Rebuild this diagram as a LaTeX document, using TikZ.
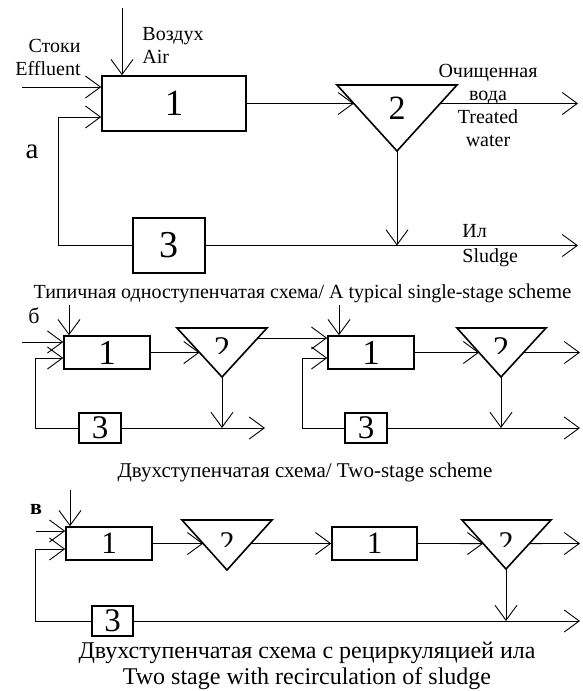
\documentclass[tikz,border=0pt]{standalone}
\usepackage{fontspec}
\setmainfont{Liberation Serif}
\usetikzlibrary{arrows.meta}
\newcommand{\fsz}[2]{\fontsize{#1}{#2}\selectfont}
\tikzset{
  blok/.style={draw, line width=1.6pt, inner sep=0pt},
  lbl/.style={inner sep=0pt, font=\fsz{20}{23}},
  tri/.style={line width=1.6pt, line join=miter}
}
\begin{document}
\begin{tikzpicture}[x=1pt,y=-1pt,>={Straight Barb[length=15pt,width=22pt]},line width=0.9pt]
\useasboundingbox (0,0) rectangle (582,691);
% Схема а
\node[blok, minimum width=144pt, minimum height=55pt, font=\fsz{37}{40}] (A1) at (174,103.5) {1};
\node[blok, minimum width=72pt, minimum height=55pt, font=\fsz{38}{40}] (A3) at (169,245.5) {3};
\coordinate (tA1) at (337,85); \coordinate (tA2) at (457,85); \coordinate (tA3) at (397,151);
\draw[tri] (tA1)--(tA2)--(tA3)--cycle;
\node[font=\fsz{34}{38}] (nA2) at (397,108) {2};
\coordinate (airA) at (122,8);
\draw[->] (airA) -- (airA |- A1.north);
\coordinate (effA) at (22,87);
\draw[->] (effA) -- (effA -| A1.west);
\coordinate (recA) at (58,117);
\draw[->] (A3.west) -| (recA) -- (recA -| A1.west);
\draw[->] (A1.east) -- (intersection of A1.west--A1.east and tA1--tA3);
\coordinate (outA) at (578,103.5);
\draw[->] (intersection of A1.west--A1.east and tA2--tA3) -- (outA);
\draw[->] (tA3) -- (tA3 |- A3.east);
\coordinate (sludA) at (578,245.5);
\draw[->] (A3.east) -- (sludA);
% подписи а
\node[lbl, align=left, anchor=west] (airlbl) at (142,45) {Воздух\\Air};
\node[lbl, align=right, anchor=east] (efflbl) at (81,57.5) {Стоки\\Effluent};
\node[lbl, align=center] (waterlbl) at (488,105.5) {Очищенная\\вода\\Treated\\water};
\node[lbl, font=\fsz{20}{25}, align=left, anchor=west] (sludlbl) at (462,245.5) {Ил\\Sludge};
\node[font=\fsz{29}{32}] (la) at (32,152) {а};
\node[inner sep=0pt, font=\fsz{20}{23}] (capA) at (302.5,293) {Типичная одноступенчатая схема/ A typical single-stage {\fsz{21}{23}scheme}};
% Схема б, первая ступень
\node[blok, minimum width=86pt, minimum height=33pt, font=\fsz{35}{36}] (B1) at (107,352.5) {1};
\node[blok, minimum width=42pt, minimum height=30pt, font=\fsz{33}{36}] (B3) at (100,428) {3};
\coordinate (tB1) at (177,328); \coordinate (tB2) at (267,328); \coordinate (tB3) at (222,377);
\draw[tri] (tB1)--(tB2)--(tB3)--cycle;
\begin{scope}
\clip (170,328) rectangle (270,353);
\node[font=\fsz{33}{36}] (nB2) at (222,348.5) {2};
\end{scope}
\coordinate (airB) at (69,305);
\draw[->] (airB) -- (airB |- B1.north);
\coordinate (effB) at (22,342);
\draw[->] (effB) -- (effB -| B1.west);
\coordinate (recB) at (35,358);
\draw[->] (B3.west) -| (recB) -- (recB -| B1.west);
\draw[->] (B1.east) -- (intersection of B1.west--B1.east and tB1--tB3);
\draw[->] (tB3) -- (tB3 |- B3.east);
\coordinate (sludB) at (265,428);
\draw[->] (B3.east) -- (sludB);
% вторая ступень
\node[blok, minimum width=86pt, minimum height=33pt, font=\fsz{35}{36}] (D1) at (371,352.5) {1};
\node[blok, minimum width=42pt, minimum height=30pt, font=\fsz{33}{36}] (D3) at (366,428) {3};
\coordinate (tD1) at (457,328); \coordinate (tD2) at (546,328); \coordinate (tD3) at (501,377);
\draw[tri] (tD1)--(tD2)--(tD3)--cycle;
\begin{scope}
\clip (450,328) rectangle (550,353);
\node[font=\fsz{33}{36}] (nD2) at (501,348.5) {2};
\end{scope}
\coordinate (oB) at (258,338);
\draw[->] (oB) -- (oB -| D1.west);
\coordinate (airD) at (339,305);
\draw[->] (airD) -- (airD |- D1.north);
\coordinate (recD) at (302,358);
\draw[->] (D3.west) -| (recD) -- (recD -| D1.west);
\draw[->] (D1.east) -- (intersection of D1.west--D1.east and tD1--tD3);
\coordinate (outD) at (580,352.5);
\draw[->] (intersection of D1.west--D1.east and tD2--tD3) -- (outD);
\draw[->] (tD3) -- (tD3 |- D3.east);
\coordinate (sludD) at (580,428);
\draw[->] (D3.east) -- (sludD);
\node[font=\fsz{22}{24}] (lb) at (34,316) {б};
\node[inner sep=0pt, font=\fsz{21}{24}] (capB) at (305,472) {Двухступенчатая схема/ Two-stage scheme};
% Схема в
\node[blok, minimum width=86pt, minimum height=33pt, font=\fsz{31}{32}] (C1) at (109,543.5) {1};
\node[blok, minimum width=85pt, minimum height=33pt, font=\fsz{31}{32}] (C2) at (374.5,543.5) {1};
\node[blok, minimum width=41pt, minimum height=30pt, font=\fsz{33}{34}] (C3) at (112.5,621) {3};
\coordinate (tC1) at (182,520); \coordinate (tC2) at (272,520); \coordinate (tC3) at (227,570);
\draw[tri] (tC1)--(tC2)--(tC3)--cycle;
\coordinate (tE1) at (462,520); \coordinate (tE2) at (551,520); \coordinate (tE3) at (506,569);
\draw[tri] (tE1)--(tE2)--(tE3)--cycle;
\begin{scope}
\clip (175,520) rectangle (280,546);
\node[font=\fsz{30}{32}] (nC2) at (227,543) {2};
\end{scope}
\begin{scope}
\clip (455,520) rectangle (560,546);
\node[font=\fsz{30}{32}] (nE2) at (506,543) {2};
\end{scope}
\coordinate (airC) at (70,490);
\draw[->] (airC) -- (airC |- C1.north);
\coordinate (effC) at (36,531);
\draw[->] (effC) -- (effC -| C1.west);
\coordinate (recC) at (35,549);
\draw[->] (C3.west) -| (recC) -- (recC -| C1.west);
\draw[->] (C1.east) -- (intersection of C1.west--C1.east and tC1--tC3);
\draw[->] (intersection of C1.west--C1.east and tC2--tC3) -- (C2.west);
\draw[->] (C2.east) -- (intersection of C2.west--C2.east and tE1--tE3);
\coordinate (outC) at (580,543.5);
\draw[->] (intersection of C2.west--C2.east and tE2--tE3) -- (outC);
\draw[->] (tE3) -- (tE3 |- C3.east);
\coordinate (sludC) at (580,621);
\draw[->] (C3.east) -- (sludC);
\node[font=\bfseries\fsz{22}{24}] (lc) at (36,509) {в};
\node[inner sep=0pt, font=\fsz{24}{26}, align=center] (capC) at (307,665.5) {Двухступенчатая схема с рециркуляцией ила\\Two stage with recirculation of sludge};
\end{tikzpicture}
\end{document}
